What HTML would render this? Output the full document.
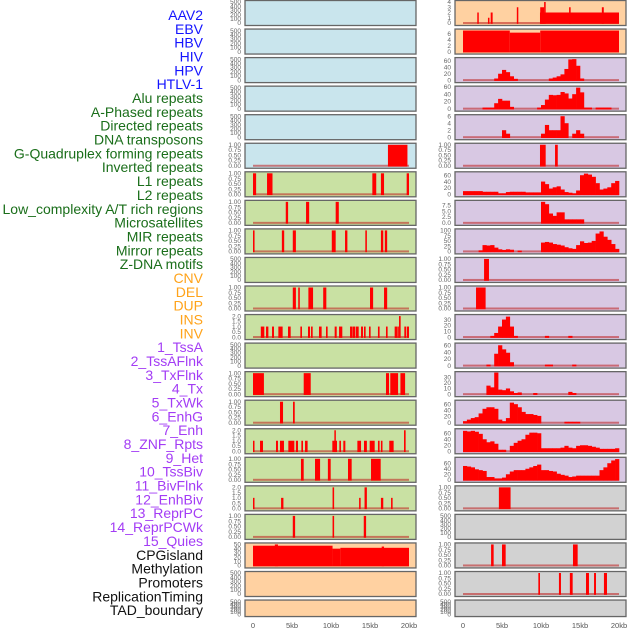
<!DOCTYPE html>
<html><head><meta charset="utf-8"><style>
html,body{margin:0;padding:0;background:#fff;width:630px;height:630px;overflow:hidden}
svg{display:block}
</style></head><body>
<svg id="chart" width="630" height="630" xmlns="http://www.w3.org/2000/svg"></svg>
<script>
const trackLabels = ["AAV2","EBV","HBV","HIV","HPV","HTLV-1","Alu repeats","A-Phased repeats","Directed repeats","DNA transposons","G-Quadruplex forming repeats","Inverted repeats","L1 repeats","L2 repeats","Low_complexity A/T rich regions","Microsatellites","MIR repeats","Mirror repeats","Z-DNA motifs","CNV","DEL","DUP","INS","INV","1_TssA","2_TssAFlnk","3_TxFlnk","4_Tx","5_TxWk","6_EnhG","7_Enh","8_ZNF_Rpts","9_Het","10_TssBiv","11_BivFlnk","12_EnhBiv","13_ReprPC","14_ReprPCWk","15_Quies","CPGisland","Methylation","Promoters","ReplicationTiming","TAD_boundary"];
const labelGroupSizes = [6,13,5,15,5];
const labelGroupColors = ["#1414ff","#1a6e1a","#ffa31a","#a33cf5","#111111"];
const xTickValues = [0,5,10,15,20];
const xTickLabels = ["0","5kb","10kb","15kb","20kb"];

// segments: [startKb, endKb, value]
const L5 = [[17.3,19.8,1]];
const L6 = [[0,0.4,1],[1.8,2.5,1],[15.3,15.8,1],[16.4,16.8,1],[19.7,20,1]];
const L7 = [[4.2,4.5,1],[6.8,7.2,1],[10.6,11,1]];
const L8 = [[0,0.2,1],[3.7,4.0,1],[5.1,5.5,1],[10.1,10.6,1],[11.8,12.1,1],[14.4,14.6,1],[16.4,16.7,1],[16.9,17.2,1]];
const L10 = [[5.1,5.5,1],[5.8,6.0,1],[7.1,7.7,1],[9.0,9.4,1],[15.0,15.4,1],[16.8,17.2,1]];
const L11 = [[1.0,1.45,1],[1.67,1.97,1],[2.44,2.69,1],[3.25,3.8,1],[4.49,4.83,1],[6.07,6.28,1],[7.05,7.31,1],[7.44,7.65,1],[8.46,8.8,1],[9.36,9.57,1],[10.47,10.73,1],[11.03,11.45,1],[12.44,12.74,1],[12.78,13.08,1],[13.16,13.55,1],[13.85,14.1,1],[14.23,14.44,1],[14.87,15.08,1],[16.02,16.23,1],[17.05,17.26,1],[18.16,18.46,1],[18.5,18.7,1],[18.72,18.93,2],[19.4,19.65,1],[19.74,20,1]];
const L13 = [[0,1.4,1],[6.5,7.4,1],[17.05,17.44,1],[17.6,18.6,1],[18.9,19.5,1]];
const L14 = [[3.46,3.85,1],[5.13,5.35,1]];
const L15 = [[0,0.12,1],[0.9,1.28,1],[2.95,3.2,1],[3.46,3.97,1],[4.53,5.3,1],[5.5,5.77,1],[6.2,6.41,1],[6.67,7.0,1],[10.17,10.77,1],[10.43,10.6,2],[11.07,11.28,1],[11.58,11.84,1],[13.38,13.85,1],[14.23,14.6,1],[14.96,15.6,1],[16.02,16.23,1],[16.4,16.6,1],[17.47,18.03,1],[19.36,19.57,2]];
const L16 = [[6.15,6.5,1],[7.95,8.6,1],[9.6,9.96,1],[12.18,12.65,1],[15.13,16.37,1]];
const L17 = [[0,0.12,1],[3.6,3.9,1],[10.2,10.4,2],[13.6,13.8,1],[14.3,14.6,2],[16.4,16.7,1],[17.7,17.9,1]];
const L18 = [[5.1,5.4,1],[10.2,10.4,1],[14.2,14.5,1]];
const L19 = [[0,10.2,47],[2.8,3.2,50],[10.2,11.2,40],[11.2,20,42],[16.5,16.8,45]];
const R0 = [[1.83,2.0,2],[3.2,3.35,1],[3.55,3.8,2],[6.9,7.05,3],[9.87,20,2],[9.9,10.4,3],[10.4,10.6,4],[13.6,13.8,3],[17.8,18.05,3]];
const R1 = [[0,6.0,7],[6.0,9.9,6.3],[9.9,20,7]];
const R5 = [[9.87,10.6,1],[11.8,12.15,1]];
const R9 = [[2.7,3.33,1]];
const R10 = [[1.67,2.9,1]];
const R17 = [[4.6,6.1,1]];
const R19 = [[3.6,3.93,1],[5.0,5.47,1],[14.1,14.7,1]];
const R20 = [[9.66,9.87,1],[12.3,12.56,1],[13.7,14.06,1],[15.77,16.15,1],[16.8,17.05,1],[18.07,18.46,1]];

// binned values: 40 bins of 0.5 kb
const R2 = [0,0,0,0,0,0,0,0,5,20,32,25,12,4,0,0,0,0,0,0,0,0,5,8,12,18,35,65,66,45,5,0,0,0,0,0,0,0,0,0];
const R3 = [0,0,0,0,0,3,3,3,15,27,22,22,5,0,0,0,0,0,0,3,10,25,38,37,38,46,42,28,40,58,45,3,3,0,3,3,3,3,0,0];
const R4 = [0,0,0,0,0,0,0,0,0,0,2,1,0,0,0,0,0,0,0,0,1,3.5,2,2,2,6,4,0,1,2,1,0,0,0,0,0,0,0,0,0];
const R6 = [10,10,10,10,10,8,8,8,8,3,3,7,8,8,8,8,6,6,6,6,40,32,18,22,25,15,7,5,3,12,60,65,62,55,35,15,18,22,35,42];
const R7 = [0,0,0,0,0,0,0,0,0,0,0,0,0,0,0,0,0,0,0,0,9,8,4,3,4.5,4.5,1.5,1.5,1.5,1.5,1.5,0,0,0,0,0,0,0,0,0];
const R8 = [0,0,0,0,5,30,28,30,18,10,7,10,8,0,4,0,0,0,0,0,42,45,42,35,32,28,20,15,12,30,48,40,42,50,85,95,70,55,35,12];
const R11 = [0,0,0,0,0,0,0,2,7,18,30,35,18,2,0,0,0,0,0,0,0,2,0,0,0,0,0,2,0,0,0,0,0,0,0,0,0,0,0,0];
const R12 = [0,0,0,0,0,0,3,0,35,60,48,38,10,0,0,0,0,0,0,0,0,3,3,0,0,0,0,0,3,0,0,0,0,0,0,0,0,0,0,0];
const R13 = [0,0,0,0,0,0,15,12,38,8,7,10,5,2,3,0,0,0,2,0,0,0,0,0,0,0,0,4,2,0,0,0,0,0,0,0,0,0,0,0];
const R14 = [5,10,15,18,30,45,50,50,45,10,5,15,65,60,50,35,28,28,25,22,0,0,0,0,0,0,3,3,3,3,0,0,0,0,0,0,0,0,0,0];
const R15 = [68,66,68,65,58,40,30,33,25,5,5,0,18,28,35,40,55,62,62,60,10,10,10,10,10,12,18,12,10,18,20,20,18,15,12,8,8,8,8,10];
const R16 = [50,48,45,38,35,32,10,10,5,5,8,20,30,35,35,35,40,45,50,55,35,35,32,30,22,18,15,10,12,15,15,15,15,15,15,35,45,60,70,75];

const T500 = ["0","100","200","300","400","500"], V500=[0,100,200,300,400,500];
const T1 = ["0.00","0.25","0.50","0.75","1.00"], V1=[0,0.25,0.5,0.75,1];
const T2 = ["0.0","0.5","1.0","1.5","2.0"], V2=[0,0.5,1,1.5,2];

const BL="#c9e5ed",GR="#c9e1a3",OR="#ffd1a1",PU="#d8c8e3",GY="#d2d2d2";
// [background, segs, bins, yMax, tickValues, tickLabels]
const leftPanels = [
 [BL,null,null,500,V500,T500],[BL,null,null,500,V500,T500],[BL,null,null,500,V500,T500],[BL,null,null,500,V500,T500],[BL,null,null,500,V500,T500],
 [BL,L5,null,1,V1,T1],
 [GR,L6,null,1,V1,T1],[GR,L7,null,1,V1,T1],[GR,L8,null,1,V1,T1],[GR,null,null,500,V500,T500],[GR,L10,null,1,V1,T1],
 [GR,L11,null,2,V2,T2],[GR,null,null,500,V500,T500],[GR,L13,null,1,V1,T1],[GR,L14,null,1,V1,T1],[GR,L15,null,2,V2,T2],
 [GR,L16,null,1,V1,T1],[GR,L17,null,2,V2,T2],[GR,L18,null,1,V1,T1],
 [OR,L19,null,50,[0,10,20,30,40,50],["0","10","20","30","40","50"]],[OR,null,null,500,V500,T500],[OR,null,null,500,V500,T500]
];
const rightPanels = [
 [OR,R0,null,4,[0,1,2,3,4],["0","1","2","3","4"]],[OR,R1,null,7,[0,2,4,6],["0","2","4","6"]],
 [PU,null,R2,66,[0,20,40,60],["0","20","40","60"]],[PU,null,R3,58,[0,20,40,60],["0","20","40","60"]],[PU,null,R4,6,[0,2,4,6],["0","2","4","6"]],
 [PU,R5,null,1,V1,T1],[PU,null,R6,66,[0,20,40,60],["0","20","40","60"]],[PU,null,R7,9,[0,2.5,5,7.5],["0.0","2.5","5.0","7.5"]],
 [PU,null,R8,100,[0,25,50,75,100],["0","25","50","75","100"]],[PU,R9,null,1,V1,T1],[PU,R10,null,1,V1,T1],
 [PU,null,R11,36,[0,10,20,30],["0","10","20","30"]],[PU,null,R12,62,[0,20,40,60],["0","20","40","60"]],[PU,null,R13,37,[0,10,20,30],["0","10","20","30"]],
 [PU,null,R14,68,[0,20,40,60],["0","20","40","60"]],[PU,null,R15,70,[0,20,40,60],["0","20","40","60"]],[PU,null,R16,76,[0,20,40,60],["0","20","40","60"]],
 [GY,R17,null,1,V1,T1],[GY,null,null,500,V500,T500],[GY,R19,null,1,V1,T1],[GY,R20,null,1,V1,T1],[GY,null,null,500,V500,T500]
];

const NS="http://www.w3.org/2000/svg";
const svg=document.getElementById('chart');
function mk(tag,attrs,parent){const e=document.createElementNS(NS,tag);for(const k in attrs)e.setAttribute(k,attrs[k]);(parent||svg).appendChild(e);return e;}

// labels
let li=0;
labelGroupSizes.forEach((n,g)=>{for(let j=0;j<n;j++){
  const t=mk('text',{x:203,y:15+li*13.84+5,'text-anchor':'end','font-size':'14','font-family':'"Liberation Sans",sans-serif',fill:labelGroupColors[g]});
  
  
  t.textContent=trackLabels[li]; li++;
}});

function drawColumn(panels,x0,colName){
  const pxL=x0, pxR=x0+171, kb0=x0+8, kbPer=7.8;
  const xs=k=>kb0+k*kbPer;
  panels.forEach((p,i)=>{
    const [bg,segs,bins,yMax,tv,tl]=p;
    const top=i*28.55+0.5, h=(i===21)?16.5:25;
    const yBase=top+h-2.5, yTop=top+1.5;
    const ys=v=>yBase-(v/yMax)*(yBase-yTop);
    const g=mk('g',{});
    
    
    mk('rect',{x:pxL,y:top,width:171,height:h,fill:bg,stroke:'#666','stroke-width':1.3},g);
    const hasData=segs||bins;
    if(hasData){
      const bl=mk('rect',{x:xs(0),y:yBase-1,width:xs(20)-xs(0),height:2,fill:'rgba(190,30,30,0.55)'},g);
      
      
    }
    if(segs){segs.forEach(s=>{
      const x1=xs(s[0]),x2=Math.max(xs(s[1]),x1+1.5),yv=Math.max(ys(s[2]),top+0.7);
      const r=mk('rect',{x:x1,y:yv,width:x2-x1,height:yBase+0.8-yv,fill:'#ff0000'},g);
      
      
    });}
    if(bins){bins.forEach((v,b)=>{
      if(v<=0)return;
      const x1=xs(b*0.5),x2=xs(b*0.5+0.5),yv=Math.max(ys(v),top+0.7);
      const r=mk('rect',{x:x1,y:yv,width:x2-x1+0.3,height:yBase+0.8-yv,fill:'#ff0000'},g);
      
      
    });}
    tv.forEach((v,k)=>{
      const t=mk('text',{x:x0-4,y:ys(v)+2.2,'text-anchor':'end','font-size':'6.5','font-family':'"Liberation Sans",sans-serif',fill:'#666'},g);
      
      
      t.textContent=tl[k];
    });
  });
  xTickValues.forEach((v,k)=>{
    const t=mk('text',{x:xs(v),y:628,'text-anchor':'middle','font-size':'7.5','font-family':'"Liberation Sans",sans-serif',fill:'#555'});
    
    
    t.textContent=xTickLabels[k];
  });
}
drawColumn(leftPanels,245,'left');
drawColumn(rightPanels,455,'right');
</script>
</body></html>
